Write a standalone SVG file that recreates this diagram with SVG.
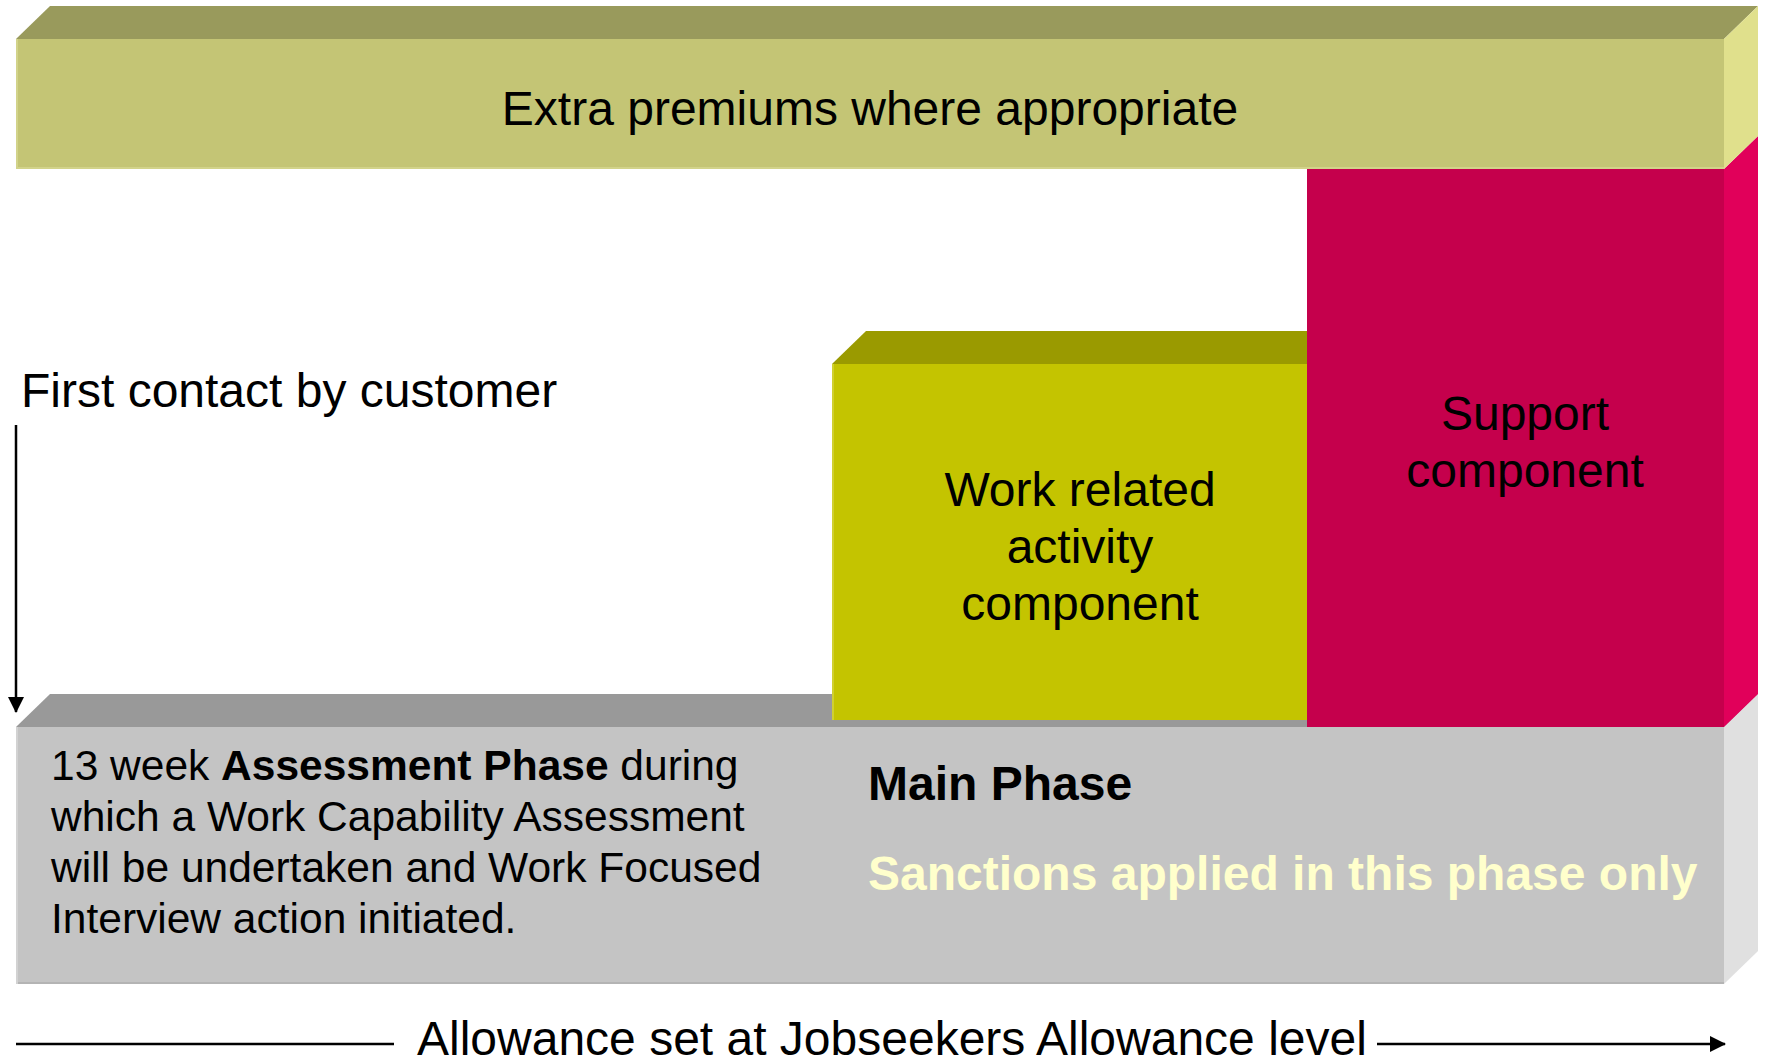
<svg xmlns="http://www.w3.org/2000/svg" width="1767" height="1058" viewBox="0 0 1767 1058">
  <style>
    text { font-family: "Liberation Sans", Arial, sans-serif; fill: #000; }
    .lbl { font-size: 48px; }
    .body { font-size: 42.5px; }
    .b { font-weight: bold; }
    .mid { text-anchor: middle; }
    .conn { stroke: #000; stroke-width: 2.5; fill: none; }
  </style>
  <defs>
    <marker id="head" viewBox="0 0 16 16" refX="15" refY="8" markerWidth="16" markerHeight="16" markerUnits="userSpaceOnUse" orient="auto">
      <path d="M0,0 L16,8 L0,16 Z" fill="#000"/>
    </marker>
  </defs>

  <rect width="1767" height="1058" fill="#fff"/>

  <!-- Base bar: assessment phase and main phase -->
  <g id="phase-bar">
    <polygon points="16,727 50,694 1758,694 1724,727" fill="#999999"/>
    <polygon points="1724,727 1758,694 1758,951 1724,984" fill="#E0E0E0"/>
    <rect x="16" y="727" width="1708" height="257" fill="#C4C4C4"/>
    <line x1="16" y1="983" x2="1724" y2="983" stroke="#B4B4B4" stroke-width="2"/>
    <line x1="17" y1="727" x2="17" y2="984" stroke="#D2D2D2" stroke-width="2"/>
  </g>

  <!-- Work related activity component -->
  <g id="work-related">
    <polygon points="832,364 866,331 1307,331 1307,364" fill="#9A9A00"/>
    <rect x="832" y="364" width="475" height="356" fill="#C4C400"/>
    <line x1="833" y1="364" x2="833" y2="720" stroke="#D0D030" stroke-width="2"/>
    <text class="lbl mid" x="1080" y="506">Work related</text>
    <text class="lbl mid" x="1080" y="563">activity</text>
    <text class="lbl mid" x="1080" y="620">component</text>
  </g>

  <!-- Support component -->
  <g id="support">
    <polygon points="1724,169 1758,136 1758,694 1724,727" fill="#E1005A"/>
    <rect x="1307" y="169" width="417" height="558" fill="#C5004C"/>
    <text class="lbl mid" x="1525" y="430">Support</text>
    <text class="lbl mid" x="1525" y="487">component</text>
  </g>

  <!-- Extra premiums bar -->
  <g id="extra-premiums">
    <polygon points="16,39 50,6 1758,6 1724,39" fill="#999A5C"/>
    <polygon points="1724,39 1758,6 1758,136 1724,169" fill="#E0E08C"/>
    <rect x="16" y="39" width="1708" height="130" fill="#C4C575"/>
    <line x1="16" y1="168" x2="1724" y2="168" stroke="#D2D38A" stroke-width="2"/>
    <line x1="17" y1="39" x2="17" y2="169" stroke="#D2D38A" stroke-width="2"/>
    <text class="lbl mid" x="870" y="125">Extra premiums where appropriate</text>
  </g>

  <!-- Phase texts on the base bar -->
  <g id="assessment-phase">
    <text class="body" x="51" y="780">13 week <tspan class="b">Assessment Phase</tspan> during</text>
    <text class="body" x="51" y="831">which a Work Capability Assessment</text>
    <text class="body" x="51" y="882">will be undertaken and Work Focused</text>
    <text class="body" x="51" y="933">Interview action initiated.</text>
  </g>
  <g id="main-phase">
    <text class="lbl b" x="868" y="800">Main Phase</text>
    <text class="lbl b" x="868" y="890" style="fill:#FFFFCC">Sanctions applied in this phase only</text>
  </g>

  <!-- Labels -->
  <g id="first-contact">
    <text class="lbl" x="21" y="407">First contact by customer</text>
  </g>
  <g id="allowance-level">
    <text class="lbl" x="417" y="1055">Allowance set at Jobseekers Allowance level</text>
  </g>

  <!-- Connectors -->
  <g id="connectors">
    <line class="conn" x1="16" y1="425" x2="16" y2="712" marker-end="url(#head)"/>
    <line class="conn" x1="16" y1="1044" x2="394" y2="1044"/>
    <line class="conn" x1="1377" y1="1044" x2="1725" y2="1044" marker-end="url(#head)"/>
  </g>
</svg>
